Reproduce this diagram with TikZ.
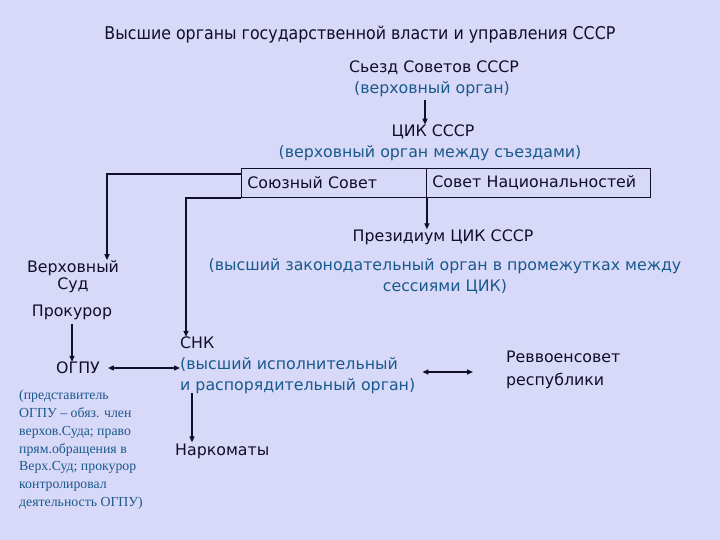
\documentclass[tikz,border=0pt]{standalone}
\usepackage{fontspec}
\setmainfont{DejaVu Sans}
\newfontfamily\condfont{DejaVu Sans Condensed}
\newfontfamily\seriffont{Liberation Serif}
\usetikzlibrary{arrows.meta,calc}
\definecolor{bg}{RGB}{216,216,248}
\definecolor{blu}{RGB}{25,90,140}
\definecolor{ink}{RGB}{15,15,40}
\begin{document}
\begin{tikzpicture}[x=1pt,y=-1pt,
  txt/.style={font=\fontsize{15.8}{21}\selectfont, text=ink, inner sep=0pt},
  btxt/.style={font=\fontsize{15.8}{21}\selectfont, text=blu, inner sep=0pt},
  cell/.style={draw=ink, line width=0.9pt, font=\fontsize{15.8}{21}\selectfont, text=ink,
    minimum height=29pt, inner sep=0pt, inner xsep=6pt, anchor=north west, align=left},
  arr/.style={draw=ink, line width=1.4pt, -{Triangle[length=6pt,width=5pt]}},
  darr/.style={draw=ink, line width=1.4pt, {Triangle[length=6pt,width=5pt]}-{Triangle[length=6pt,width=5pt]}}]
\fill[bg] (0,0) rectangle (720,540);
\useasboundingbox (0,0) rectangle (720,540);

\node[txt, font=\condfont\fontsize{17.6}{20}\selectfont] (title) at (360,35) {Высшие органы государственной власти и управления СССР};
\node[txt] (sezd) at (434,68) {Сьезд Советов СССР};
\node[btxt] (verh) at (432,89) {(верховный орган)};
\node[txt] (cik) at (433,132) {ЦИК СССР};
\node[btxt] (cikd) at (430,153) {(верховный орган между съездами)};

\node[cell, minimum width=185pt, text width=173pt] (soyuz) at (241,168) {Союзный Совет};
\node[cell, minimum width=224pt, text width=212pt] (nats) at (426,168) {Совет Национальностей};

\node[txt] (prez) at (443,237) {Президиум ЦИК СССР};
\node[btxt, align=center] (prezd) at (445,276.5) {(высший законодательный орган в промежутках между\\сессиями ЦИК)};

\node[txt, align=center, font=\fontsize{15.8}{17}\selectfont] (vs) at (73,276.5) {Верховный\\Суд};
\node[txt] (prok) at (72,312) {Прокурор};
\node[txt] (ogpu) at (78,368) {ОГПУ};
\node[inner sep=0pt, anchor=north west, align=left, text=blu,
  font=\seriffont\fontsize{13.8}{17.8}\selectfont] (note) at (19,390) {(представитель\\ОГПУ – обяз. член\\верхов.Суда; право\\прям.обращения в\\Верх.Суд; прокурор\\контролировал\\деятельность ОГПУ)};

\node[txt, anchor=west] (snk) at (180,343) {СНК};
\node[btxt, anchor=west, align=left] (snkd) at (180,376) {(высший исполнительный\\и распорядительный орган)};
\node[txt, anchor=west, align=left, font=\fontsize{15.8}{23}\selectfont] (rvs) at (506,370) {Реввоенсовет\\республики};
\node[txt, anchor=west] (nark) at (175,451) {Наркоматы};
\coordinate (rl) at (473,372);

% connectors
\draw[arr] ([xshift=-7pt]verh.south) ++(0,3) -- ([xshift=-7pt]verh.south |- cik.north);
\draw[arr] (soyuz.south east) -- (soyuz.south east |- prez.north);
\draw[arr] ([yshift=-6pt]soyuz.north west) -| ([xshift=34pt]vs.north);
\draw[arr] (soyuz.south west) -| ([xshift=6pt]snk.north west);
\draw[arr] (prok.south) ++(0,4) -- ([xshift=-6pt]ogpu.north);
\draw[darr] ([xshift=8pt]ogpu.east) -- (ogpu.east -| snkd.west);
\draw[darr] (snkd.east |- rl) ++(7,0) -- (rl);
\draw[arr] ([xshift=12pt,yshift=1pt]snkd.south west) -- ([xshift=12pt,yshift=1pt]snkd.south west |- nark.north);
\end{tikzpicture}
\end{document}
